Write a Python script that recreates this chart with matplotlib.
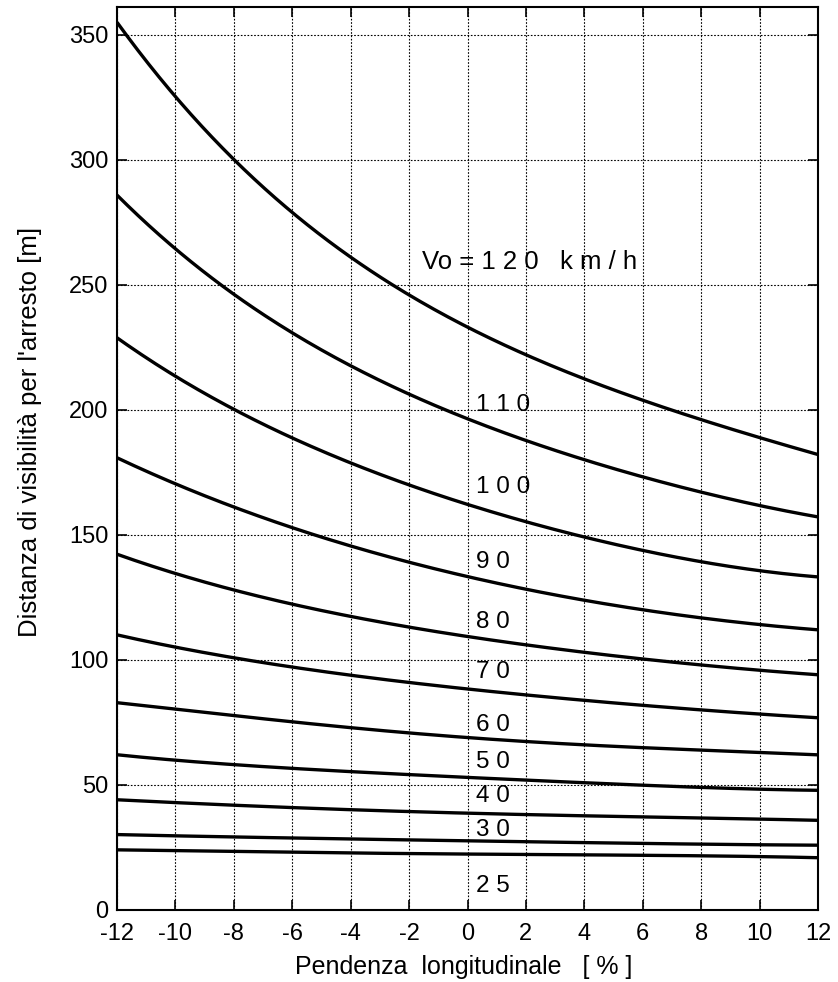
import numpy as np
import matplotlib.pyplot as plt

plt.rcParams['font.family'] = ['Liberation Sans', 'DejaVu Sans']

# pendenza longitudinale [%]
pendenza = [-12, -10, -8, -6, -4, -2, 0, 2, 4, 6, 8, 10, 12]

# distanza di visibilita per l'arresto [m], una serie per velocita
d120 = [355, 325, 300, 279, 261, 246, 233, 222, 212, 204, 196, 189, 182]
d110 = [286, 264, 246, 231, 218, 206, 196, 188, 180, 173, 167, 162, 157]
d100 = [229, 213, 200, 189, 179, 170, 162, 155, 149, 144, 139, 136, 133]
d90 = [181, 170, 161, 153, 146, 139, 133, 128, 124, 120, 117, 114, 112]
d80 = [142, 135, 128, 122, 117, 113, 110, 106, 103, 100, 98, 96, 94]
d70 = [110, 105, 101, 97, 94, 91, 88, 86, 84, 82, 80, 78, 77]
d60 = [83, 80, 78, 75, 73, 71, 69, 67, 66, 65, 64, 63, 62]
d50 = [62, 60, 58, 57, 55, 54, 53, 52, 51, 50, 49, 48, 48]
d40 = [44, 43, 42, 41, 40, 39, 39, 38, 38, 37, 37, 36, 36]
d30 = [30, 30, 29, 29, 28, 28, 28, 27, 27, 27, 26, 26, 26]
d25 = [24, 24, 23, 23, 23, 23, 22, 22, 22, 22, 22, 21, 21]

curve = [d120, d110, d100, d90, d80, d70, d60, d50, d40, d30, d25]

etichette = ["1 1 0", "1 0 0", "9 0", "8 0", "7 0", "6 0", "5 0", "4 0", "3 0", "2 5"]
pos_etichette = [202, 169, 139, 115, 95, 74, 59, 45.5, 32, 9.5]

fig = plt.figure(figsize=(8.38, 9.82), dpi=100)
ax = fig.add_axes([117 / 838, 1 - 910 / 982, 701 / 838, 903 / 982])

xs = np.linspace(-12, 12, 200)
for d in curve:
    # curva liscia attraverso i punti letti
    ys = np.polyval(np.polyfit(pendenza, d, 4), xs)
    ax.plot(xs, ys, color='black', lw=2.4, solid_capstyle='butt')

ax.text(-1.55, 259, "Vo = 1 2 0   k m / h", fontsize=18.5, va='center', ha='left')
for t, y in zip(etichette, pos_etichette):
    ax.text(0.3, y, t, fontsize=17.5, va='center', ha='left')

ax.set_xlim(-12, 12)
ax.set_ylim(0, 361)
ax.set_xticks(pendenza)
ax.set_xticklabels([str(v) for v in pendenza])
ax.set_yticks([0, 50, 100, 150, 200, 250, 300, 350])
ax.tick_params(direction='in', length=7, width=1.2, labelsize=17, top=True, right=True)
ax.tick_params(axis='x', pad=9)
ax.tick_params(axis='y', pad=6)
ax.grid(True, color='black', linestyle=(0, (1.5, 1.5)), linewidth=0.8)
for s in ax.spines.values():
    s.set_linewidth(1.5)

ax.set_xlabel("Pendenza  longitudinale   [ % ]", fontsize=18)
ax.set_ylabel("Distanza di visibilità per l'arresto [m]", fontsize=18.5)
ax.xaxis.set_label_coords(0.495, -0.050)
ax.yaxis.set_label_coords(-0.107, 0.529)

fig.savefig("out.png", dpi=100)
